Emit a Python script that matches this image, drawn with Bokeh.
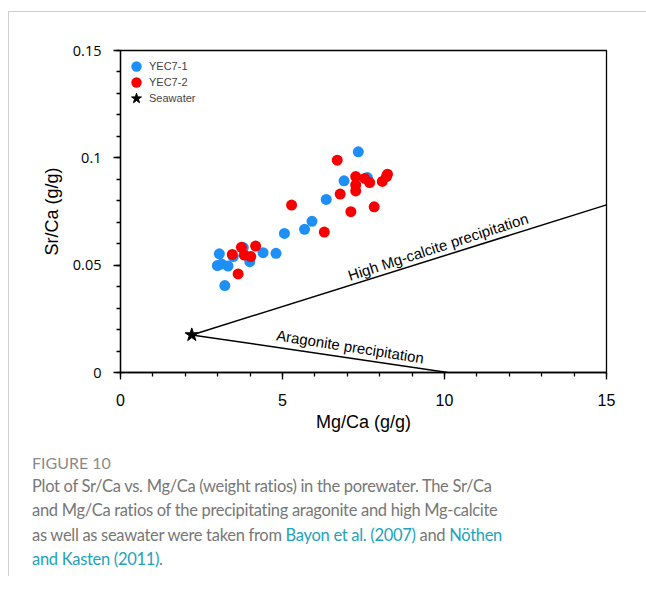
from bokeh.plotting import figure
from bokeh.models import (Range1d, FixedTicker, NumeralTickFormatter, Legend, LegendItem, Div)
from bokeh.layouts import column
from bokeh.core.properties import value
from bokeh.embed import file_html
from bokeh.resources import INLINE

# ---- data ----
yec71_mg = [7.34, 7.62, 6.90, 6.35, 5.91, 5.68, 5.06, 4.80, 4.40, 3.99, 3.79, 3.48,
            3.05, 2.99, 3.12, 3.32, 3.22]
yec71_sr = [0.1028, 0.0908, 0.0893, 0.0806, 0.0704, 0.0667, 0.0648, 0.0555, 0.0558,
            0.0516, 0.0582, 0.0540, 0.0553, 0.0498, 0.0505, 0.0496, 0.0405]

yec72_mg = [6.69, 7.26, 7.26, 7.26, 7.54, 7.69, 8.08, 8.24, 8.21, 6.78, 7.11, 7.83,
            5.28, 6.29, 4.17, 3.73, 3.45, 3.82, 4.02, 3.63]
yec72_sr = [0.0989, 0.0913, 0.0874, 0.0846, 0.0904, 0.0885, 0.0890, 0.0924, 0.0913,
            0.0831, 0.0749, 0.0772, 0.0780, 0.0654, 0.0589, 0.0583, 0.0550, 0.0547,
            0.0540, 0.0459]

seawater_mg = [2.2]
seawater_sr = [0.0175]

hmc_line_mg = [2.2, 15.0]
hmc_line_sr = [0.0175, 0.0781]
arag_line_mg = [2.2, 10.1]
arag_line_sr = [0.0175, 0.0]

legend_labels = ["YEC7-1", "YEC7-2", "Seawater"]

x_ticks = [0, 5, 10, 15]
x_minor = [i for i in range(0, 16)]
y_ticks = [0, 0.05, 0.1, 0.15]
y_minor = [0.01 * i for i in range(0, 16)]

FONT = "Liberation Sans"

p = figure(width=638, height=431, output_backend="svg", toolbar_location=None,
           x_range=Range1d(0, 15), y_range=Range1d(0, 0.15),
           frame_width=486, frame_height=322,
           min_border_left=111, min_border_top=38, min_border_right=41, min_border_bottom=71)
p.grid.visible = False
p.outline_line_color = "black"
p.outline_line_width = 1.3

p.xaxis.ticker = FixedTicker(ticks=x_ticks, minor_ticks=x_minor)
p.yaxis.ticker = FixedTicker(ticks=y_ticks, minor_ticks=y_minor)
p.yaxis.formatter = NumeralTickFormatter(format="0.[00]")
p.xaxis.axis_label = "Mg/Ca (g/g)"
p.yaxis.axis_label = "Sr/Ca (g/g)"
for ax in (p.xaxis, p.yaxis):
    ax.axis_line_width = 1.3
    ax.major_tick_line_width = 1.3
    ax.minor_tick_line_width = 1.3
    ax.major_tick_out = 7
    ax.major_tick_in = 0
    ax.minor_tick_out = 4
    ax.minor_tick_in = 0
    ax.major_label_text_color = "black"
    ax.axis_label_text_font = FONT
    ax.axis_label_text_font_size = "18px"
    ax.axis_label_text_font_style = "normal"
    ax.axis_label_text_color = "black"
p.xaxis.major_label_text_font = FONT
p.xaxis.major_label_text_font_size = "16px"
p.yaxis.major_label_text_font = "Open Sans"
p.yaxis.major_label_text_font_size = "14.5px"
p.xaxis.major_label_standoff = 14
p.yaxis.major_label_standoff = 12
p.xaxis.axis_label_standoff = 3
p.yaxis.axis_label_standoff = 8

# lines
p.line(hmc_line_mg, hmc_line_sr, line_color="black", line_width=1.5)
p.line(arag_line_mg, arag_line_sr, line_color="black", line_width=1.5)

r1 = p.scatter(yec71_mg, yec71_sr, size=11, fill_color="#1e8ff7", line_color=None)
r2 = p.scatter(yec72_mg, yec72_sr, size=11, fill_color="#f90000", line_color=None)
r3 = p.scatter(seawater_mg, seawater_sr, marker="star", size=14, fill_color="black",
               line_color="black")

p.text(x=[9.8], y=[0.0586], text=["High Mg-calcite precipitation"], angle=18,
       angle_units="deg", text_font=value(FONT), text_font_size="15px",
       text_align="center", text_baseline="middle", text_color="black")
p.text(x=[7.09], y=[0.0121], text=["Aragonite precipitation"], angle=-9,
       angle_units="deg", text_font=value(FONT), text_font_size="15px",
       text_align="center", text_baseline="middle", text_color="black")

# one legend per entry, stacked 16 px apart (screen offsets from frame bottom-left)
for i, (lab, rend) in enumerate(zip(legend_labels, [r1, r2, r3])):
    lg = Legend(items=[LegendItem(label=lab, renderers=[rend])],
                location=(3, 293 - 16 * i), margin=0, padding=1, spacing=0,
                glyph_height=26, glyph_width=26, label_standoff=0,
                label_text_font=FONT, label_text_font_size="11px",
                label_height=14, border_line_color=None, background_fill_alpha=0)
    p.add_layout(lg, "center")

caption = Div(width=638, text=(
    '<div style="padding-left:18px;padding-top:4px;font-family:Lato;">'
    '<div style="font-size:16px;color:#8a8a8a;line-height:22px;">FIGURE 10</div>'
    '<div style="font-size:16.5px;letter-spacing:-0.3px;color:#777777;line-height:24.3px;white-space:nowrap;">'
    'Plot of Sr/Ca vs. Mg/Ca (weight ratios) in the porewater. The Sr/Ca<br>'
    'and Mg/Ca ratios of the precipitating aragonite and high Mg-calcite<br>'
    'as well as seawater were taken from <span style="color:#20a3bc">Bayon et al. (2007)</span>'
    ' and <span style="color:#20a3bc">N\u00f6then<br>and Kasten (2011)</span>.'
    '</div></div>'))

layout = column(p, caption, styles={"border-left": "1px solid #cfcfcf",
                                    "border-top": "1px solid #cfcfcf",
                                    "margin-left": "8px", "margin-top": "11px"})

open("out.html", "w").write(file_html(layout, INLINE))
